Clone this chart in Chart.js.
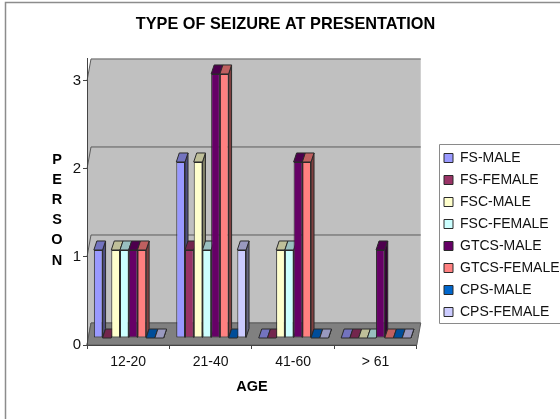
<!DOCTYPE html>
<html>
<head>
<meta charset="utf-8">
<title>Type of seizure at presentation</title>
<script src="https://cdn.jsdelivr.net/npm/chart.js@4/dist/chart.umd.min.js"></script>
<style>
  html, body { margin: 0; padding: 0; background: #fff; }
  #box { position: relative; width: 560px; height: 419px; }
</style>
</head>
<body>
<div id="box"><canvas id="grafico"></canvas></div>
<script>
const categories = ['12-20', '21-40', '41-60', '> 61'];
const seriesNames = ['FS-MALE', 'FS-FEMALE', 'FSC-MALE', 'FSC-FEMALE', 'GTCS-MALE', 'GTCS-FEMALE', 'CPS-MALE', 'CPS-FEMALE'];
const fsMale = [1, 2, 0, 0];
const fsFemale = [0, 1, 0, 0];
const fscMale = [1, 2, 1, 0];
const fscFemale = [1, 1, 1, 0];
const gtcsMale = [1, 3, 2, 1];
const gtcsFemale = [1, 3, 2, 0];
const cpsMale = [0, 0, 0, 0];
const cpsFemale = [0, 1, 0, 0];
const seriesValues = [fsMale, fsFemale, fscMale, fscFemale, gtcsMale, gtcsFemale, cpsMale, cpsFemale];
const seriesColors = ['#9999FF', '#993366', '#FFFFCC', '#CCFFFF', '#660066', '#FF8080', '#0066CC', '#CCCCFF'];
const yTitleLetters = ['P', 'E', 'R', 'S', 'O', 'N'];

const fuente = 'Liberation Sans, Arial, sans-serif';
const lineaBarra = '#2a2a2a';

// profundidad de la pared del fondo y de las barras
const paredDx = 4, paredDy = 22;
const barraDx = 3, barraDy = 9;
const barraShiftX = 0.5, barraShiftY = -7;

function oscurecer(hex, f) {
  const n = parseInt(hex.slice(1), 16);
  const r = Math.round((n >> 16 & 255) * f);
  const g = Math.round((n >> 8 & 255) * f);
  const b = Math.round((n & 255) * f);
  return `rgb(${r},${g},${b})`;
}

function poligono(ctx, pts, fill, stroke) {
  ctx.beginPath();
  pts.forEach((p, i) => i ? ctx.lineTo(p[0], p[1]) : ctx.moveTo(p[0], p[1]));
  ctx.closePath();
  if (fill) { ctx.fillStyle = fill; ctx.fill(); }
  if (stroke) { ctx.strokeStyle = stroke; ctx.lineWidth = 1; ctx.stroke(); }
}

const fondo3d = {
  id: 'fondo3d',
  beforeDraw(chart) {
    const ctx = chart.ctx;
    const a = chart.chartArea;
    const y = chart.scales.y;

    // marco de la imagen
    ctx.save();
    ctx.fillStyle = '#fff';
    ctx.fillRect(0, 0, 560, 419);
    ctx.strokeStyle = '#8c8c8c';
    ctx.lineWidth = 1.5;
    ctx.beginPath();
    ctx.moveTo(5.5, 419);
    ctx.lineTo(5.5, 2.5);
    ctx.lineTo(560, 2.5);
    ctx.stroke();

    // recuadro de la leyenda
    ctx.strokeStyle = '#8a8a8a';
    ctx.lineWidth = 1;
    ctx.beginPath();
    ctx.moveTo(560, 144.5);
    ctx.lineTo(439.5, 144.5);
    ctx.lineTo(439.5, 323.5);
    ctx.lineTo(560, 323.5);
    ctx.stroke();

    // paredes
    const y0 = y.getPixelForValue(0);
    const yTop = a.top;
    poligono(ctx, [[a.left + paredDx, y0 - paredDy], [a.right + paredDx, y0 - paredDy], [a.right + paredDx, yTop], [a.left + paredDx, yTop]], '#C0C0C0');
    poligono(ctx, [[a.left, y0], [a.left + paredDx, y0 - paredDy], [a.left + paredDx, yTop], [a.left, yTop + paredDy]], '#C0C0C0');

    // lineas de la reja
    ctx.strokeStyle = '#5c5c5c';
    ctx.lineWidth = 1;
    y.ticks.forEach(t => {
      const py = y.getPixelForValue(t.value);
      ctx.beginPath();
      ctx.moveTo(a.left, py);
      ctx.lineTo(a.left + paredDx, py - paredDy);
      ctx.lineTo(a.right + paredDx, py - paredDy);
      ctx.stroke();
    });

    // piso
    poligono(ctx, [[a.left, y0], [a.right, y0], [a.right + paredDx, y0 - paredDy], [a.left + paredDx, y0 - paredDy]], '#808080', '#5c5c5c');

    // eje Y como letras apiladas
    ctx.fillStyle = '#000';
    ctx.font = 'bold 14.5px ' + fuente;
    ctx.textAlign = 'center';
    ctx.textBaseline = 'middle';
    yTitleLetters.forEach((l, i) => ctx.fillText(l, 57, 159.5 + i * 20.2));
    ctx.restore();

    // la leyenda va fija a un lado del grafico
    const leg = chart.legend;
    leg.left = 436;
    leg.right = 560;
    leg.top = 143;
    leg.bottom = 419;
  },
  beforeDatasetsDraw(chart) {
    const ctx = chart.ctx;
    ctx.save();
    ctx.translate(barraShiftX, barraShiftY);
    // caras lateral y superior, de izquierda a derecha; el frente lo pone la libreria
    categories.forEach((c, j) => {
      seriesValues.forEach((v, i) => {
        const el = chart.getDatasetMeta(i).data[j];
        const l = el.x - el.width / 2;
        const r = el.x + el.width / 2;
        const color = seriesColors[i];
        poligono(ctx, [[r, el.y], [r + barraDx, el.y - barraDy], [r + barraDx, el.base - barraDy], [r, el.base]], oscurecer(color, 0.5), lineaBarra);
        poligono(ctx, [[l, el.y], [r, el.y], [r + barraDx, el.y - barraDy], [l + barraDx, el.y - barraDy]], oscurecer(color, 0.75), lineaBarra);
      });
    });
  },
  afterDatasetsDraw(chart) {
    chart.ctx.restore();
  }
};

new Chart(document.getElementById('grafico').getContext('2d'), {
  type: 'bar',
  data: {
    labels: categories,
    datasets: seriesNames.map((name, i) => ({
      label: name,
      data: seriesValues[i],
      backgroundColor: seriesColors[i],
      borderColor: lineaBarra,
      borderWidth: 1,
      borderSkipped: false,
      barPercentage: 1,
      categoryPercentage: 0.846,
      clip: false
    }))
  },
  options: {
    responsive: true,
    maintainAspectRatio: false,
    animation: false,
    events: [],
    layout: { padding: { left: 23, right: 12, top: 0, bottom: 0 } },
    plugins: {
      title: {
        display: true,
        text: 'TYPE OF SEIZURE AT PRESENTATION',
        color: '#000',
        font: { family: fuente, size: 16.3, weight: 'bold' },
        padding: { top: 15.2, bottom: 24.2 }
      },
      legend: {
        display: true,
        position: 'right',
        align: 'start',
        labels: {
          color: '#111',
          font: { family: fuente, size: 14 },
          boxWidth: 9,
          boxHeight: 9,
          padding: 8
        }
      },
      tooltip: { enabled: false }
    },
    scales: {
      x: {
        afterFit: s => { s.height = 74; },
        border: { color: '#444' },
        grid: { drawOnChartArea: false, offset: true, tickLength: 4, color: '#444' },
        ticks: { color: '#111', font: { family: fuente, size: 14 }, padding: 5, maxRotation: 0 },
        title: {
          display: true,
          text: 'AGE',
          color: '#000',
          font: { family: fuente, size: 14.5, weight: 'bold' },
          padding: { top: 0, bottom: 23 }
        }
      },
      y: {
        min: 0,
        max: 3.25,
        afterFit: s => { s.width = 64; },
        border: { color: '#444' },
        grid: { drawOnChartArea: false, tickLength: 4, color: '#444' },
        ticks: { stepSize: 1, includeBounds: false, color: '#111', font: { family: fuente, size: 15 }, padding: 2 }
      }
    }
  },
  plugins: [fondo3d]
});
</script>
</body>
</html>
